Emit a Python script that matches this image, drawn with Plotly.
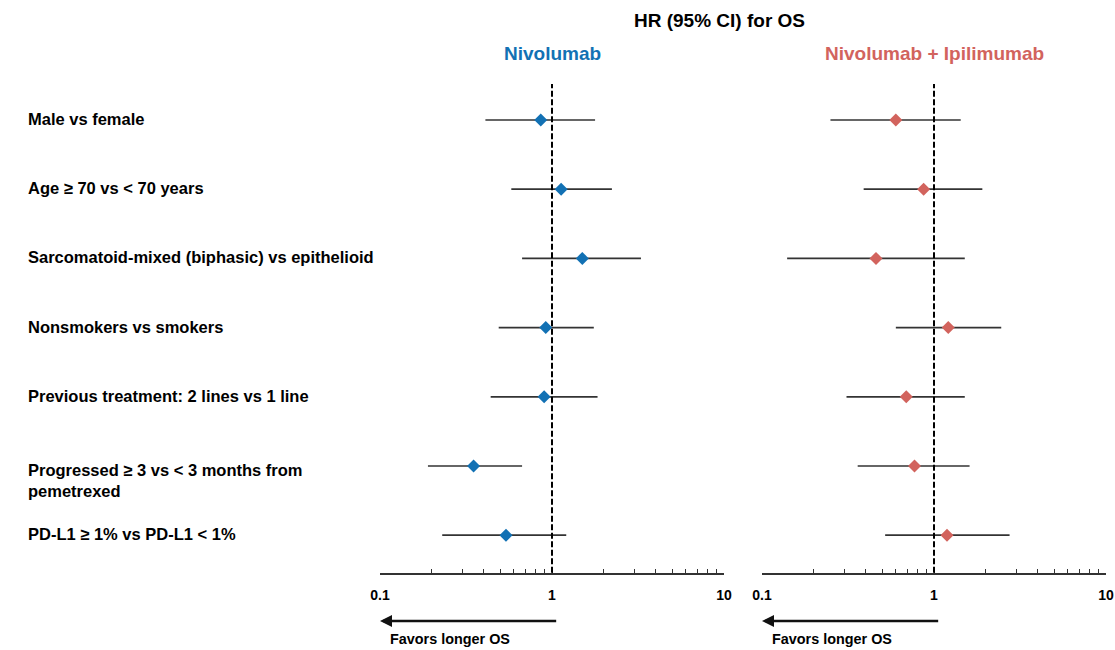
import plotly.graph_objects as go

# ---- data ----
labels = [
    "Male vs female",
    "Age \u2265 70 vs < 70 years",
    "Sarcomatoid-mixed (biphasic) vs epithelioid",
    "Nonsmokers vs smokers",
    "Previous treatment: 2 lines vs 1 line",
    "Progressed \u2265 3 vs < 3 months from<br>pemetrexed",
    "PD-L1 \u2265 1% vs PD-L1 < 1%",
]
nivo_hr = [0.86, 1.13, 1.50, 0.92, 0.90, 0.35, 0.54]
nivo_lo = [0.41, 0.58, 0.67, 0.49, 0.44, 0.19, 0.23]
nivo_hi = [1.78, 2.23, 3.29, 1.75, 1.84, 0.67, 1.21]

combo_hr = [0.60, 0.87, 0.46, 1.21, 0.69, 0.77, 1.19]
combo_lo = [0.25, 0.39, 0.14, 0.60, 0.31, 0.36, 0.52]
combo_hi = [1.43, 1.91, 1.51, 2.46, 1.51, 1.61, 2.75]

tick_vals = [0.1, 0.2, 0.3, 0.4, 0.5, 0.6, 0.7, 0.8, 0.9,
             1, 2, 3, 4, 5, 6, 7, 8, 9, 10]
tick_text = ["0.1" if v == 0.1 else "1" if v == 1 else "10" if v == 10 else ""
             for v in tick_vals]

panel_titles = ["Nivolumab", "Nivolumab + Ipilimumab"]
main_title = "HR (95% CI) for OS"
favors_text = "Favors longer OS"

BLUE = "#1271b4"
RED = "#d2635d"
FONT = "Liberation Sans, Arial, sans-serif"

W, H = 1115, 650


def px_x(s):
    return s / W


def px_y(s):
    return 1 - s / H


rows = list(range(len(labels)))

fig = go.Figure()

for hr, lo, hi, color, xa in [
    (nivo_hr, nivo_lo, nivo_hi, BLUE, "x"),
    (combo_hr, combo_lo, combo_hi, RED, "x2"),
]:
    fig.add_trace(go.Scatter(
        x=hr, y=rows, xaxis=xa, yaxis="y", mode="markers",
        marker=dict(symbol="diamond", size=10, color=color),
        error_x=dict(type="data", symmetric=False,
                     array=[h - m for h, m in zip(hi, hr)],
                     arrayminus=[m - l for m, l in zip(hr, lo)],
                     color="#333333", thickness=1.7, width=0),
        showlegend=False, hoverinfo="skip",
    ))

axis_common = dict(
    type="log", range=[-1, 1], tickvals=tick_vals, ticktext=tick_text,
    ticks="inside", ticklen=4, tickwidth=1.3, tickcolor="#333",
    showline=True, linecolor="#333", linewidth=1.5, showgrid=False,
    zeroline=False, automargin=False, ticklabeloverflow="allow",
    tickfont=dict(family=FONT, size=14, color="black", weight="bold"),
    ticklabelstandoff=9, anchor="y",
)

axis_bottom_px = 572.7
row0_px = 120.0
row_step = 69.2
y_top = -row0_px / row_step
y_bot = (axis_bottom_px - row0_px) / row_step

fig.update_layout(
    width=W, height=H,
    margin=dict(l=0, r=0, t=0, b=0, pad=0, autoexpand=False),
    paper_bgcolor="white", plot_bgcolor="white",
    xaxis=dict(domain=[px_x(380), px_x(724)], **axis_common),
    xaxis2=dict(domain=[px_x(762), px_x(1106)], **axis_common),
    yaxis=dict(domain=[px_y(axis_bottom_px), 1], range=[y_bot, y_top],
               visible=False, showgrid=False, zeroline=False, automargin=False),
)

shapes = []
annotations = []
dash_top = 1 - 84 / axis_bottom_px
for xa in ["x", "x2"]:
    shapes.append(dict(type="line", xref=xa, yref="y domain", x0=1, x1=1,
                       y0=0, y1=dash_top,
                       line=dict(color="black", width=2, dash="6px,2.5px")))
    annotations.append(dict(
        xref=xa, yref="paper", x=-1, y=px_y(621),
        axref=xa, ayref="pixel", ax=0.033, ay=0,
        showarrow=True, arrowhead=2, arrowsize=1, arrowwidth=2.4,
        arrowcolor="#111", text="",
    ))
    annotations.append(dict(
        xref=xa, yref="paper", x=-1, y=px_y(638.5), xanchor="left",
        yanchor="middle", xshift=8, showarrow=False,
        text=favors_text,
        font=dict(family=FONT, size=14.4, color="black", weight="bold"),
    ))

for i, lab in enumerate(labels):
    multi = "<br>" in lab
    annotations.append(dict(
        xref="paper", yref="y", x=px_x(26), y=i, xanchor="left",
        yanchor="middle", align="left", showarrow=False,
        yshift=-14 if multi else 1,
        text=lab,
        font=dict(family=FONT, size=16.5, color="black", weight="bold"),
    ))

annotations.append(dict(
    xref="paper", yref="paper", x=px_x(719), y=px_y(20), showarrow=False,
    text=main_title, xanchor="center", yanchor="middle",
    font=dict(family=FONT, size=19, color="black", weight="bold"),
))
for xa, t, c in [("x", panel_titles[0], BLUE), ("x2", panel_titles[1], RED)]:
    annotations.append(dict(
        xref=xa, yref="paper", x=0, y=px_y(54), showarrow=False,
        text=t, xanchor="center", yanchor="middle",
        font=dict(family=FONT, size=19, color=c, weight="bold"),
    ))

fig.update_layout(shapes=shapes, annotations=annotations)
fig.write_html(
    "out.html",
    config={"displayModeBar": False},
    post_script="document.body.style.margin='0';document.body.style.overflow='hidden';",
)
